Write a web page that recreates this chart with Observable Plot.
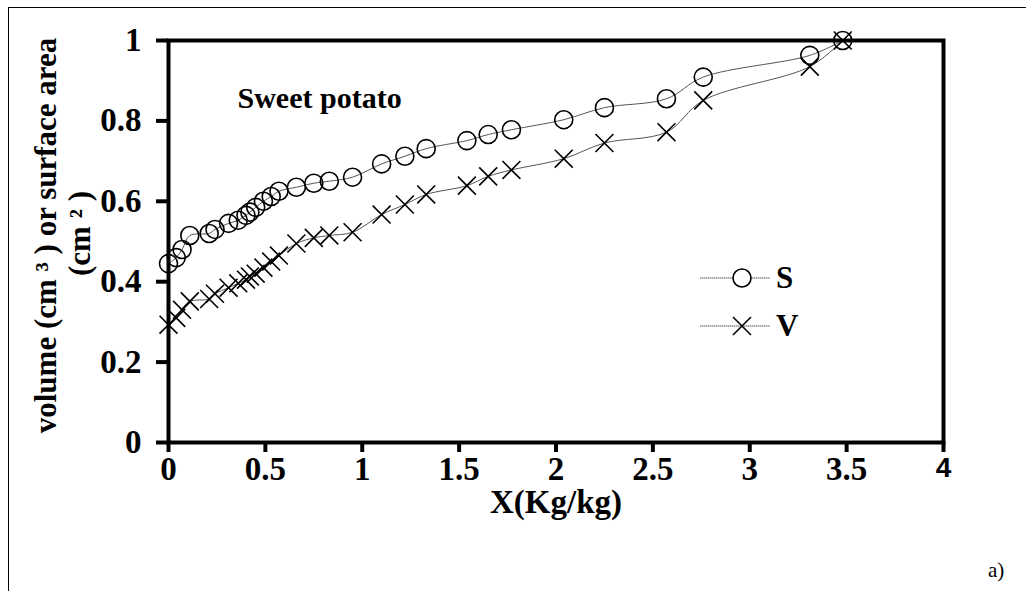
<!DOCTYPE html>
<html>
<head>
<meta charset="utf-8">
<script src="https://cdn.jsdelivr.net/npm/d3@7"></script>
<script src="https://cdn.jsdelivr.net/npm/@observablehq/plot@0.6"></script>
<style>
  html, body { margin: 0; padding: 0; background: #fff; }
  #wrap { position: relative; width: 1026px; height: 591px; overflow: hidden; }
  #border { position: absolute; left: 8px; top: 7px; right: 0; bottom: 0;
            border-left: 1px solid #000; border-top: 1px solid #000; }
  #legend { position: absolute; left: 690px; top: 254px; font-family: "Liberation Serif", serif;
            font-weight: bold; font-size: 31px; }
  #legend .row { display: flex; align-items: center; height: 48px; }
  #legend span { margin-left: 6px; }
  #tag { position: absolute; left: 988px; top: 558px; font-family: "Liberation Serif", serif;
         font-size: 21px; }
</style>
</head>
<body>
<div id="wrap">
  <div id="border"></div>
  <div id="chart"></div>
  <div id="legend"></div>
  <div id="tag">a)</div>
</div>
<script>
// Moisture content X (kg/kg), shared by both series
const moisture = [0, 0.04, 0.07, 0.11, 0.21, 0.24, 0.31, 0.36, 0.40, 0.42, 0.45, 0.49, 0.53, 0.57,
  0.66, 0.75, 0.83, 0.95, 1.10, 1.22, 1.33, 1.54, 1.65, 1.77, 2.04, 2.25, 2.57, 2.76, 3.31, 3.48];
// Relative surface area S
const surface = [0.445, 0.46, 0.48, 0.515, 0.52, 0.53, 0.545, 0.553, 0.565, 0.573, 0.585, 0.60, 0.612, 0.625,
  0.635, 0.645, 0.65, 0.66, 0.693, 0.712, 0.731, 0.751, 0.766, 0.778, 0.803, 0.833, 0.855, 0.909, 0.963, 1.0];
// Relative volume V
const volume = [0.293, 0.31, 0.33, 0.351, 0.357, 0.37, 0.385, 0.396, 0.405, 0.413, 0.42, 0.435, 0.45, 0.465,
  0.495, 0.509, 0.515, 0.523, 0.567, 0.592, 0.617, 0.639, 0.662, 0.678, 0.706, 0.745, 0.772, 0.851, 0.935, 1.0];

const xTicks = [0, 0.5, 1, 1.5, 2, 2.5, 3, 3.5, 4];
const yTicks = [0, 0.2, 0.4, 0.6, 0.8, 1];
const seriesNames = ["S", "V"];
const titleText = "Sweet potato";
const xLabel = "X(Kg/kg)";
const yLabelLines = ["volume (cm \u00B3 ) or surface area", "(cm \u00B2 )"];

const sData = moisture.map((x, i) => ({x, y: surface[i]}));
const vData = moisture.map((x, i) => ({x, y: volume[i]}));

const serif = "'Liberation Serif', 'Times New Roman', serif";
const lineColor = "#555";
const tickFont = 33;

const chart = Plot.plot({
  width: 1026,
  height: 591,
  marginLeft: 168,
  marginRight: 83,
  marginTop: 40,
  marginBottom: 149,
  style: {fontFamily: serif, fontWeight: "bold", fontSize: `${tickFont}px`, background: "transparent"},
  x: {domain: [0, 4]},
  y: {domain: [0, 1]},
  marks: [
    // smoothed connecting lines
    Plot.line(sData, {x: "x", y: "y", stroke: lineColor, strokeWidth: 1, curve: "catmull-rom"}),
    Plot.line(vData, {x: "x", y: "y", stroke: lineColor, strokeWidth: 1, curve: "catmull-rom"}),
    // markers
    Plot.dot(sData, {x: "x", y: "y", r: 9, stroke: "#000", strokeWidth: 1.6, fill: "none"}),
    Plot.dot(vData, {x: "x", y: "y", r: 8.2, symbol: "times", stroke: "#000", strokeWidth: 1.6}),
    // axes
    Plot.axisY({ticks: yTicks, tickSize: 12, tickPadding: 15, strokeWidth: 4, label: null,
      tickFormat: d => String(d), fontSize: tickFont, fontWeight: "bold", fontFamily: serif}),
    Plot.axisX({ticks: xTicks, tickSize: 10, tickPadding: 4, strokeWidth: 4, label: null,
      tickFormat: d => d === 4 ? "" : String(d), fontSize: tickFont, fontWeight: "bold", fontFamily: serif}),
    Plot.text([xTicks[xTicks.length - 1]], {x: d => d, frameAnchor: "bottom", lineAnchor: "middle", dy: 26,
      text: d => String(d), fontSize: 28, fontWeight: "bold",
      fontFamily: "'Liberation Sans', Arial, sans-serif"}),
    Plot.frame({stroke: "#000", strokeWidth: 4}),
    // axis titles
    Plot.text([xLabel], {frameAnchor: "bottom", lineAnchor: "middle", dy: 60, text: d => d, fontSize: tickFont,
      fontWeight: "bold", fontFamily: serif}),
    Plot.text([yLabelLines[0]], {frameAnchor: "left", lineAnchor: "middle", dx: -122, dy: -6, rotate: -90,
      textAnchor: "middle", text: d => d, fontSize: 31, fontWeight: "bold", fontFamily: serif}),
    Plot.text([yLabelLines[1]], {frameAnchor: "left", lineAnchor: "middle", dx: -88, dy: -8, rotate: -90,
      textAnchor: "middle", text: d => d, fontSize: 31, fontWeight: "bold", fontFamily: serif}),
    // panel title
    Plot.text([titleText], {frameAnchor: "top-left", lineAnchor: "middle", dx: 69, dy: 58, text: d => d,
      textAnchor: "start", fontSize: 30, fontWeight: "bold", fontFamily: serif})
  ]
});
document.getElementById("chart").appendChild(chart);

// legend: line + marker + series name
const legend = d3.select("#legend");
seriesNames.forEach(name => {
  const row = legend.append("div").attr("class", "row");
  const svg = row.append("svg").attr("width", 80).attr("height", 30);
  svg.append("line").attr("x1", 10).attr("x2", 80).attr("y1", 15).attr("y2", 15)
    .attr("stroke", lineColor).attr("stroke-width", 1).attr("stroke-dasharray", "1.5,0.5");
  if (name === "S") {
    svg.append("circle").attr("cx", 52).attr("cy", 15).attr("r", 9)
      .attr("fill", "#fff").attr("stroke", "#000").attr("stroke-width", 1.6);
  } else {
    const s = 9;
    svg.append("path").attr("d", `M${52 - s},${15 - s}L${52 + s},${15 + s}M${52 - s},${15 + s}L${52 + s},${15 - s}`)
      .attr("stroke", "#000").attr("stroke-width", 1.6);
  }
  row.append("span").text(name);
});
</script>
</body>
</html>
